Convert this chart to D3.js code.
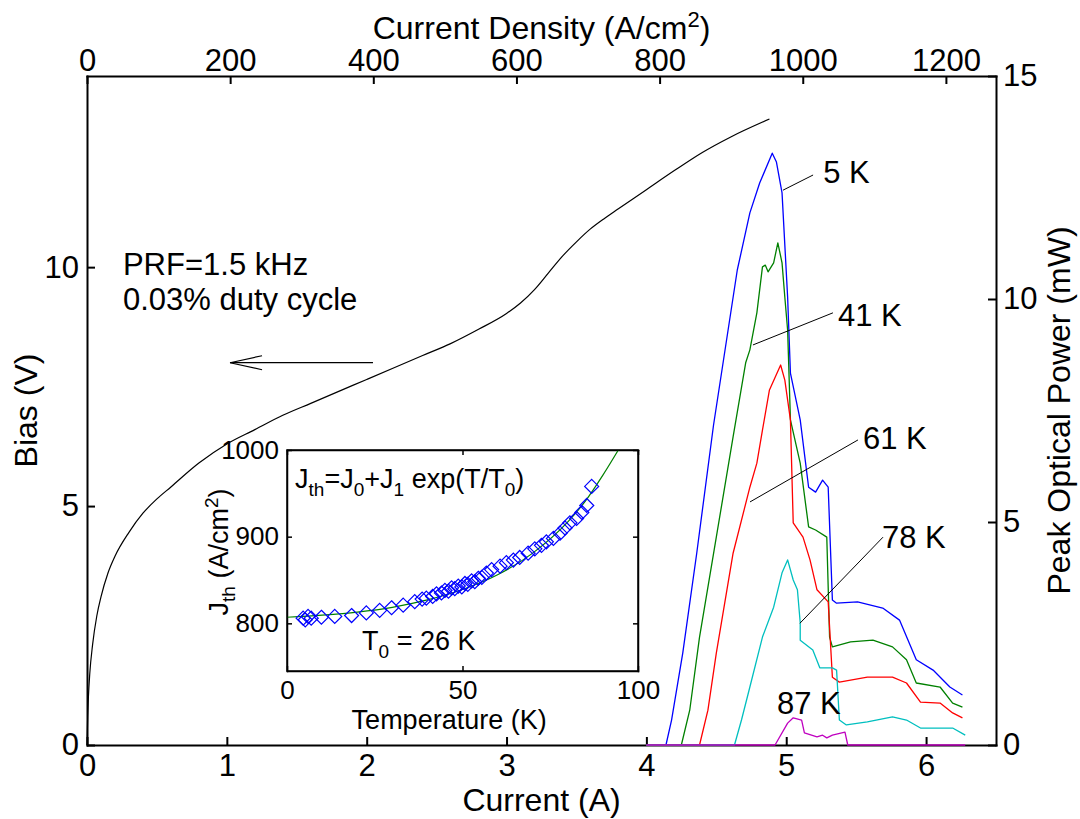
<!DOCTYPE html>
<html lang="en">
<head>
<meta charset="UTF-8">
<title>Bias and peak optical power vs current</title>
<script src="https://d3js.org/d3.v7.min.js"></script>
<style>
  body { margin: 0; background: #fff; }
  svg { display: block; }
  text { font-family: 'Liberation Sans', Arial, Helvetica, sans-serif; fill: #000; }
</style>
</head>
<body>
<svg width="1080" height="819"></svg>
<script>
// ---- values ----
const currentTicks = [0, 1, 2, 3, 4, 5, 6];
const densityTicks = [0, 200, 400, 600, 800, 1000, 1200];
const biasTicks = [0, 5, 10];
const powerTicks = [0, 5, 10, 15];

// bias (V) vs current (A)
const biasI = [0, 0.005, 0.01, 0.02, 0.04, 0.07, 0.1, 0.15, 0.2, 0.3, 0.4, 0.5, 0.6, 0.8, 1.0, 1.2, 1.4, 1.6, 1.8, 2.0,
               2.2, 2.4, 2.6, 2.8, 3.0, 3.1, 3.2, 3.3, 3.4, 3.5, 3.6, 3.7, 3.8, 4.0, 4.2, 4.4, 4.6, 4.88];
const biasV = [0, 0.6, 1.0, 1.5, 2.1, 2.7, 3.1, 3.6, 3.95, 4.45, 4.85, 5.15, 5.4, 5.9, 6.3, 6.6, 6.9, 7.15, 7.4, 7.65,
               7.9, 8.15, 8.4, 8.7, 9.03, 9.25, 9.53, 9.88, 10.23, 10.53, 10.8, 11.02, 11.22, 11.62, 12.02, 12.4, 12.72, 13.1];

// peak optical power (mW) vs current (A), one pair per temperature
const i5K = [4.0, 4.14, 4.18, 4.26, 4.36, 4.48, 4.65, 4.74, 4.81, 4.90, 4.93, 4.97, 5.01, 5.03, 5.10, 5.16, 5.21, 5.26,
             5.30, 5.33, 5.36, 5.51, 5.69, 5.81, 5.93, 6.05, 6.17, 6.26];
const p5K = [0, 0, 0.56, 2.06, 4.30, 7.17, 10.65, 11.93, 12.60, 13.27, 13.07, 12.38, 10.04, 8.34, 7.29, 5.78, 5.67, 5.94,
             5.78, 3.25, 3.18, 3.21, 3.07, 2.80, 1.91, 1.68, 1.30, 1.12];
const i41K = [4.0, 4.25, 4.31, 4.38, 4.50, 4.62, 4.71, 4.74, 4.79, 4.83, 4.85, 4.87, 4.91, 4.94, 4.97, 4.99, 5.01, 5.03,
              5.10, 5.16, 5.21, 5.29, 5.31, 5.33, 5.46, 5.62, 5.76, 5.86, 5.93, 6.10, 6.19, 6.26];
const p41K = [0, 0, 0.78, 2.42, 4.66, 6.91, 8.57, 8.86, 9.69, 10.72, 10.76, 10.61, 10.81, 11.26, 10.81, 10.04, 9.30, 7.29,
              6.32, 4.89, 4.82, 4.66, 2.42, 2.20, 2.31, 2.35, 2.20, 1.91, 1.39, 1.30, 0.94, 0.85];
const i61K = [4.0, 4.38, 4.44, 4.50, 4.62, 4.74, 4.79, 4.83, 4.88, 4.96, 4.99, 5.03, 5.05, 5.12, 5.17, 5.22, 5.30, 5.33,
              5.38, 5.58, 5.76, 5.86, 5.96, 6.10, 6.19, 6.26];
const p61K = [0, 0, 0.78, 2.06, 4.30, 5.78, 6.32, 7.06, 7.96, 8.52, 8.18, 7.29, 4.98, 4.66, 4.15, 3.48, 3.21, 1.52,
              1.41, 1.52, 1.52, 1.39, 0.96, 0.94, 0.72, 0.61];
const i78K = [4.0, 4.63, 4.68, 4.74, 4.83, 4.91, 4.97, 5.01, 5.05, 5.08, 5.10, 5.10, 5.19, 5.24, 5.33, 5.36, 5.38, 5.43,
              5.58, 5.76, 5.86, 5.96, 6.19, 6.28];
const p78K = [0, 0, 0.56, 1.30, 2.42, 3.09, 3.86, 4.15, 3.70, 3.48, 2.74, 2.35, 2.13, 1.73, 1.73, 1.68, 0.56, 0.45,
              0.52, 0.63, 0.56, 0.38, 0.38, 0.22];
const i87K = [4.0, 4.92, 5.01, 5.05, 5.11, 5.13, 5.22, 5.26, 5.29, 5.33, 5.42, 5.44, 6.28];
const p87K = [0, 0, 0.49, 0.61, 0.56, 0.27, 0.18, 0.22, 0.16, 0.22, 0.29, 0, 0];

const tempLabels = ["5 K", "41 K", "61 K", "78 K", "87 K"];

// inset: threshold current density vs temperature
const insetTempTicks = [0, 50, 100];
const insetJTicks = [800, 900, 1000];
const measT = [4.6, 5.2, 6.0, 6.9, 9.8, 13.6, 18.4, 22.6, 26.4, 29.8, 33.1, 36.4, 38.5, 39.7, 41.5, 42.6, 44.0, 45.0,
               46.0, 46.9, 47.8, 48.8, 49.8, 50.7, 51.5, 52.6, 53.5, 54.5, 55.5, 56.8, 58.3, 60.7, 62.5, 64.5, 66.3,
               68.7, 70.6, 72.5, 73.9, 75.9, 77.8, 79.2, 80.6, 82.5, 84.0, 85.4, 86.8];
const measJ = [806, 804, 808, 806, 807, 808, 809, 812, 815, 818, 821, 825, 828, 829, 831, 834, 835, 838,
               837, 841, 840, 843, 842, 846, 845, 849, 848, 852, 853, 858, 862, 866, 870, 873, 876,
               881, 886, 890, 894, 898, 904, 910, 916, 921, 928, 936, 958];
const fitT = [0, 10, 20, 30, 40, 50, 60, 70, 80, 85, 90, 94.4];
const fitJ = [807, 809.5, 813, 818.5, 827, 839, 856, 881, 917, 941, 971, 1000];

// ---- layout ----
const FONT = 31, FONT_TITLE = 32, FONT_IN = 26;
const svg = d3.select("svg");
svg.append("rect").attr("width", 1080).attr("height", 819).attr("fill", "#fff");

const box = {left: 87, right: 996, top: 76, bottom: 745};
const x = d3.scaleLinear().domain([0, 6.5]).range([box.left, box.right]);
const xTop = d3.scaleLinear().domain([0, 1270]).range([box.left, box.right]);
const yBias = d3.scaleLinear().domain([0, 14]).range([box.bottom, box.top]);
const yPow = d3.scaleLinear().domain([0, 15]).range([box.bottom, box.top]);
const fmt = d3.format("d");

function styleAxis(g, size, width) {
  g.attr("font-family", null).attr("font-size", size + "px");
  g.selectAll(".domain").attr("stroke", "#000").attr("stroke-width", width).attr("stroke-linecap", "square");
  g.selectAll(".tick line").attr("stroke", "#000").attr("stroke-width", width);
  g.selectAll(".tick text").attr("fill", "#000");
}

svg.append("g").attr("transform", `translate(0,${box.bottom})`)
  .call(d3.axisBottom(x).tickValues(currentTicks).tickFormat(fmt)
    .tickSize(-8).tickSizeOuter(0).tickPadding(9))
  .call(g => styleAxis(g, FONT, 2));
svg.append("g").attr("transform", `translate(0,${box.top})`)
  .call(d3.axisTop(xTop).tickValues(densityTicks).tickFormat(fmt)
    .tickSize(-8).tickSizeOuter(0).tickPadding(5))
  .call(g => styleAxis(g, FONT, 2));
svg.append("g").attr("transform", `translate(${box.left},0)`)
  .call(d3.axisLeft(yBias).tickValues(biasTicks).tickFormat(fmt)
    .tickSize(-8).tickSizeOuter(0).tickPadding(8))
  .call(g => styleAxis(g, FONT, 2));
svg.append("g").attr("transform", `translate(${box.right},0)`)
  .call(d3.axisRight(yPow).tickValues(powerTicks).tickFormat(fmt)
    .tickSize(-8).tickSizeOuter(0).tickPadding(7))
  .call(g => styleAxis(g, FONT, 2));

// axis titles
const midX = (box.left + box.right) / 2, midY = (box.top + box.bottom) / 2;
const topTitle = svg.append("text").attr("x", midX).attr("y", 39)
  .attr("text-anchor", "middle").style("font-size", FONT_TITLE + "px");
topTitle.append("tspan").text("Current Density (A/cm");
topTitle.append("tspan").attr("dy", -12).style("font-size", "22px").text("2");
topTitle.append("tspan").attr("dy", 12).text(")");

svg.append("text").attr("x", midX).attr("y", 811).attr("text-anchor", "middle")
  .style("font-size", FONT_TITLE + "px").text("Current (A)");
svg.append("text").attr("transform", `translate(37,${midY}) rotate(-90)`)
  .attr("text-anchor", "middle").style("font-size", FONT_TITLE + "px").text("Bias (V)");
svg.append("text").attr("transform", `translate(1070,${midY}) rotate(-90)`)
  .attr("text-anchor", "middle").style("font-size", FONT_TITLE + "px").text("Peak Optical Power (mW)");

// bias curve
const biasPts = biasI.map((d, i) => [d, biasV[i]]);
svg.append("path").datum(biasPts)
  .attr("fill", "none").attr("stroke", "#000").attr("stroke-width", 1.2)
  .attr("d", d3.line().x(d => x(d[0])).y(d => yBias(d[1])).curve(d3.curveMonotoneX));

// optical power curves
const series = [
  {I: i5K, P: p5K, color: "#0000ff"},
  {I: i41K, P: p41K, color: "#008000"},
  {I: i61K, P: p61K, color: "#ff0000"},
  {I: i78K, P: p78K, color: "#00bfbf"},
  {I: i87K, P: p87K, color: "#bf00bf"}
];
const powLine = d3.line().x(d => x(d[0])).y(d => yPow(d[1]));
series.forEach(s => {
  svg.append("path").datum(s.I.map((d, i) => [d, s.P[i]]))
    .attr("fill", "none").attr("stroke", s.color).attr("stroke-width", 1.3)
    .attr("stroke-linejoin", "round").attr("d", powLine);
});

// temperature labels with leader lines (current A, power mW)
const labelAt = [[5.264, 12.60], [5.37, 9.39], [5.549, 6.64], [5.685, 4.42], [4.934, 0.70]];
const leaders = [
  [[4.977, 12.44], [5.192, 12.78]],
  [[4.762, 8.97], [5.334, 9.69]],
  [[4.741, 5.45], [5.513, 6.84]],
  [[5.098, 2.73], [5.692, 4.66]]
];
leaders.forEach(l => {
  svg.append("line")
    .attr("x1", x(l[0][0])).attr("y1", yPow(l[0][1]))
    .attr("x2", x(l[1][0])).attr("y2", yPow(l[1][1]))
    .attr("stroke", "#000").attr("stroke-width", 1);
});
tempLabels.forEach((t, i) => {
  svg.append("text").attr("x", x(labelAt[i][0])).attr("y", yPow(labelAt[i][1]))
    .style("font-size", FONT + "px").text(t);
});

// pulse conditions and arrow pointing to the bias axis
svg.append("text").attr("x", x(0.257)).attr("y", yBias(9.83))
  .style("font-size", FONT + "px").text("PRF=1.5 kHz");
svg.append("text").attr("x", x(0.257)).attr("y", yBias(9.10))
  .style("font-size", FONT + "px").text("0.03% duty cycle");
const ay = yBias(8.0), ax0 = x(2.045), ax1 = x(1.023);
svg.append("line").attr("x1", ax0).attr("y1", ay).attr("x2", ax1).attr("y2", ay)
  .attr("stroke", "#000").attr("stroke-width", 1.2);
svg.append("path")
  .attr("d", `M${ax1 + 32},${ay - 7}L${ax1},${ay}L${ax1 + 32},${ay + 7}`)
  .attr("fill", "none").attr("stroke", "#000").attr("stroke-width", 1.2);

// ---- inset ----
const inBox = {left: 287, right: 638, top: 450, bottom: 671};
const xi = d3.scaleLinear().domain([0, 100]).range([inBox.left, inBox.right]);
const yi = d3.scaleLinear().domain([745, 1000]).range([inBox.bottom, inBox.top]);
const inset = svg.append("g");
inset.append("rect").attr("x", inBox.left).attr("y", inBox.top)
  .attr("width", inBox.right - inBox.left).attr("height", inBox.bottom - inBox.top)
  .attr("fill", "#fff");

inset.append("g").attr("transform", `translate(0,${inBox.bottom})`)
  .call(d3.axisBottom(xi).tickValues(insetTempTicks).tickFormat(fmt)
    .tickSize(-5).tickSizeOuter(0).tickPadding(10))
  .call(g => styleAxis(g, FONT_IN, 1.5));
inset.append("g").attr("transform", `translate(0,${inBox.top})`)
  .call(d3.axisTop(xi).tickValues(insetTempTicks).tickSize(-5).tickSizeOuter(0).tickFormat(""))
  .call(g => styleAxis(g, FONT_IN, 1.5));
inset.append("g").attr("transform", `translate(${inBox.left},0)`)
  .call(d3.axisLeft(yi).tickValues(insetJTicks).tickFormat(fmt)
    .tickSize(-5).tickSizeOuter(0).tickPadding(8))
  .call(g => styleAxis(g, FONT_IN, 1.5));
inset.append("g").attr("transform", `translate(${inBox.right},0)`)
  .call(d3.axisRight(yi).tickValues(insetJTicks).tickSize(-5).tickSizeOuter(0).tickFormat(""))
  .call(g => styleAxis(g, FONT_IN, 1.5));

svg.append("clipPath").attr("id", "inclip").append("rect")
  .attr("x", inBox.left).attr("y", inBox.top)
  .attr("width", inBox.right - inBox.left).attr("height", inBox.bottom - inBox.top);

inset.append("path").datum(fitT.map((d, i) => [d, fitJ[i]]))
  .attr("clip-path", "url(#inclip)")
  .attr("fill", "none").attr("stroke", "#008000").attr("stroke-width", 1.2)
  .attr("d", d3.line().x(d => xi(d[0])).y(d => yi(d[1])).curve(d3.curveMonotoneX));

inset.selectAll("path.diamond").data(measT.map((d, i) => [d, measJ[i]]))
  .join("path").attr("class", "diamond")
  .attr("transform", d => `translate(${xi(d[0])},${yi(d[1])})`)
  .attr("d", "M0,-7L7,0L0,7L-7,0Z")
  .attr("fill", "none").attr("stroke", "#0000ff").attr("stroke-width", 1.2);

// inset texts
inset.append("text").attr("x", xi(46.2)).attr("y", 729).attr("text-anchor", "middle")
  .style("font-size", (FONT_IN + 1) + "px").text("Temperature (K)");

const jLabel = inset.append("text").attr("transform", `translate(228,552) rotate(-90)`)
  .attr("text-anchor", "middle").style("font-size", (FONT_IN + 1) + "px");
jLabel.append("tspan").text("J");
jLabel.append("tspan").attr("dy", 7).style("font-size", "19px").text("th");
jLabel.append("tspan").attr("dy", -7).text(" (A/cm");
jLabel.append("tspan").attr("dy", -10).style("font-size", "19px").text("2");
jLabel.append("tspan").attr("dy", 10).text(")");

const formula = inset.append("text").attr("x", xi(2.3)).attr("y", yi(956))
  .style("font-size", (FONT_IN + 1) + "px");
[["J", 0], ["th", 1], ["=J", 0], ["0", 1], ["+J", 0], ["1", 1], [" exp(T/T", 0], ["0", 1], [")", 0]]
  .reduce((prevSub, [t, sub]) => {
    formula.append("tspan").attr("dy", (sub - prevSub) * 8)
      .style("font-size", sub ? "19px" : null).text(t);
    return sub;
  }, 0);

const t0 = inset.append("text").attr("x", xi(21.4)).attr("y", yi(769))
  .style("font-size", (FONT_IN + 1) + "px");
t0.append("tspan").text("T");
t0.append("tspan").attr("dy", 8).style("font-size", "19px").text("0");
t0.append("tspan").attr("dy", -8).text(" = 26 K");

inset.append("rect").attr("x", inBox.left).attr("y", inBox.top)
  .attr("width", inBox.right - inBox.left).attr("height", inBox.bottom - inBox.top)
  .attr("fill", "none").attr("stroke", "#000").attr("stroke-width", 1.5);
</script>
</body>
</html>
